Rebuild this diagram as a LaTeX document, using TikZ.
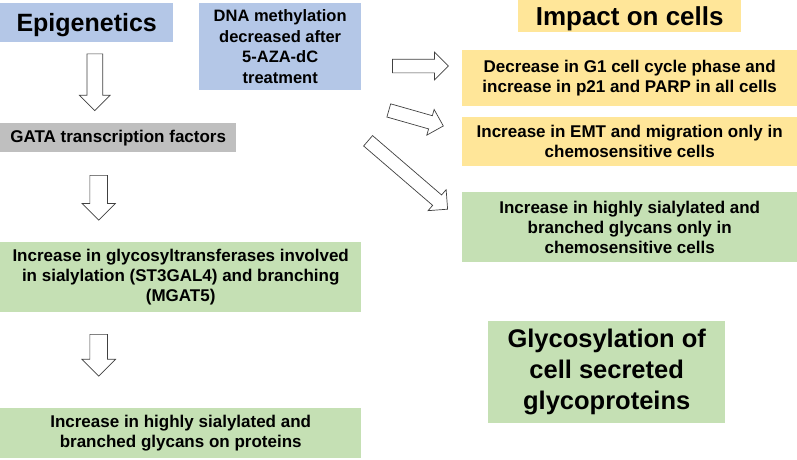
\documentclass[tikz,border=0pt]{standalone}
\usepackage{fontspec}
\setmainfont{Liberation Sans}
\usepackage{tikz}
\usetikzlibrary{shapes.arrows}
\definecolor{epiblue}{RGB}{180,199,231}
\definecolor{cellyellow}{RGB}{255,230,153}
\definecolor{glycogreen}{RGB}{197,224,180}
\definecolor{gatagray}{RGB}{191,191,191}

\begin{document}
\begin{tikzpicture}[x=1pt, y=-1pt,
    box/.style={anchor=north west, inner sep=0pt, align=center, font=\bfseries\fontsize{17}{20}\selectfont},
    titlebox/.style={box, font=\bfseries\fontsize{25}{30}\selectfont},
    fatarrow/.style={single arrow, draw=black!75, line width=0.7pt, fill=white, text height=0pt, text depth=0pt, inner xsep=0pt}]
    \useasboundingbox (0,0) rectangle (797,459);

    % left column
    \node[titlebox, fill=epiblue, minimum width=173pt, minimum height=39pt, text depth=0pt] (epi) at (0,3) {Epigenetics};
    \node[box, fill=epiblue, minimum width=162pt, minimum height=87pt, font=\bfseries\fontsize{16.5}{20.5}\selectfont] (dna) at (199,3)
        {DNA methylation\\decreased after\\5-AZA-dC\\treatment};
    \node[box, fill=gatagray, minimum width=236pt, minimum height=29pt] (gata) at (0,123) {GATA transcription factors};
    \node[box, fill=glycogreen, minimum width=361pt, minimum height=70pt] (gtf) at (0,242)
        {Increase in glycosyltransferases involved\\in sialylation (ST3GAL4) and branching\\(MGAT5)};
    \node[box, fill=glycogreen, minimum width=361pt, minimum height=50pt] (prot) at (0,408)
        {Increase in highly sialylated and\\branched glycans on proteins};

    % right column
    \node[titlebox, fill=cellyellow, minimum width=223pt, minimum height=32pt, text depth=0pt, font=\bfseries\fontsize{26}{30}\selectfont] (impact) at (518,0) {Impact on cells};
    \node[box, fill=cellyellow, minimum width=335pt, minimum height=56pt] (cycle) at (462,50)
        {Decrease in G1 cell cycle phase and\\increase in p21 and PARP in all cells};
    \node[box, fill=cellyellow, minimum width=335pt, minimum height=49pt] (emt) at (462,117)
        {Increase in EMT and migration only in\\chemosensitive cells};
    \node[box, fill=glycogreen, minimum width=335pt, minimum height=70pt] (sens) at (462,192)
        {Increase in highly sialylated and\\branched glycans only in\\chemosensitive cells};
    \node[titlebox, fill=glycogreen, minimum width=237pt, minimum height=102pt, font=\bfseries\fontsize{25.5}{31}\selectfont] (secr) at (488,321)
        {Glycosylation of\\cell secreted\\glycoproteins};

    % block arrows
    \node[fatarrow, inner ysep=7.5pt, single arrow head extend=7.5pt, minimum height=56.7pt, rotate=-90] (down1) at (94.8,78.3) {};
    \node[fatarrow, inner ysep=8.5pt, single arrow head extend=7.8pt, minimum height=44.7pt, rotate=-90] (down2) at (98.7,193.3) {};
    \node[fatarrow, inner ysep=8.5pt, single arrow head extend=8pt, minimum height=41.7pt, rotate=-90] (down3) at (98.7,350.8) {};
    \node[fatarrow, inner ysep=6.5pt, single arrow head extend=7pt, minimum height=56pt] (right1) at (417,66) {};
    \node[fatarrow, inner ysep=6.5pt, single arrow head extend=6.5pt, minimum height=56.7pt, rotate=-15.9] (right2) at (412.75,117.25) {};
    \node[fatarrow, inner ysep=6.5pt, single arrow head extend=7pt, minimum height=104.9pt, rotate=-40.7] (right3) at (405.25,172.75) {};
\end{tikzpicture}
\end{document}
